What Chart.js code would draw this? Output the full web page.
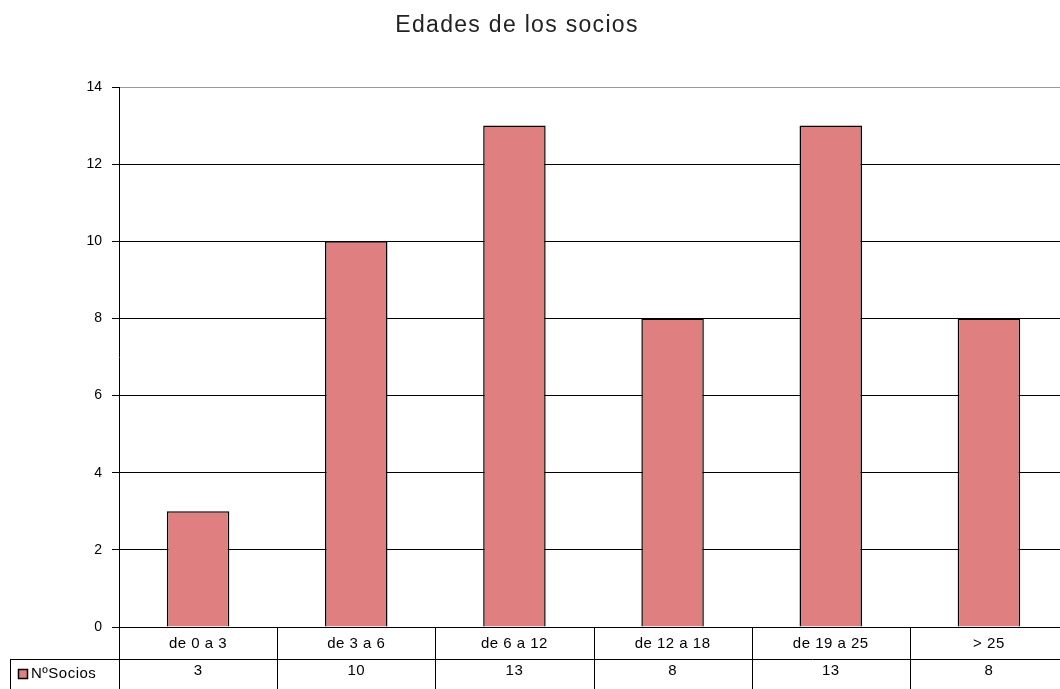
<!DOCTYPE html>
<html lang="es">
<head>
<meta charset="utf-8">
<title>Edades de los socios</title>
<script src="https://cdn.jsdelivr.net/npm/chart.js@4"></script>
<style>
  html, body { margin: 0; padding: 0; background: #fff; overflow: hidden; }
  #wrap { position: relative; width: 1080px; height: 689px; }
</style>
</head>
<body>
<div id="wrap"><canvas id="chart"></canvas></div>
<script>
// Age groups of the members and how many fall in each
const chartTitle = 'Edades de los socios';
const seriesName = 'NºSocios';
const categories = ['de 0 a 3', 'de 3 a 6', 'de 6 a 12', 'de 12 a 18', 'de 19 a 25', '> 25'];
const socios = [3, 10, 13, 8, 13, 8];
const yTicks = [0, 2, 4, 6, 8, 10, 12, 14];

const barFill = '#E07F7F';
const textFont = '15px "Liberation Sans", Arial, sans-serif';

// Title drawn above the plot, centred on the original sheet width
const titlePlugin = {
  id: 'sheetTitle',
  afterDraw(chart) {
    const ctx = chart.ctx;
    ctx.save();
    ctx.font = '23px "Liberation Sans", Arial, sans-serif';
    ctx.letterSpacing = '1.3px';
    ctx.fillStyle = '#222';
    ctx.textAlign = 'center';
    ctx.textBaseline = 'middle';
    ctx.fillText(chartTitle, 517, 26);
    ctx.restore();
  }
};

// Data table under the category axis: category row, then value row with legend key
const tablePlugin = {
  id: 'dataTable',
  afterDraw(chart) {
    const { ctx, chartArea, scales } = chart;
    const x = scales.x;
    const top = chartArea.bottom;
    const rowH = 32;
    const bottom = chart.height + 2;
    const n = categories.length;
    const step = (chartArea.right - chartArea.left) / n;
    const crisp = v => Math.round(v) + 0.5;

    ctx.save();
    ctx.strokeStyle = '#000';
    ctx.lineWidth = 1;

    // horizontal rules
    ctx.beginPath();
    ctx.moveTo(chartArea.left, crisp(top));
    ctx.lineTo(chart.width, crisp(top));
    ctx.moveTo(10, crisp(top + rowH));
    ctx.lineTo(chart.width, crisp(top + rowH));
    ctx.stroke();

    // vertical rules at category boundaries
    ctx.beginPath();
    for (let i = 0; i <= n; i++) {
      const px = crisp(x.getPixelForValue(i) - step / 2);
      ctx.moveTo(px, top);
      ctx.lineTo(px, bottom);
    }
    // legend cell left edge
    ctx.moveTo(crisp(10), top + rowH);
    ctx.lineTo(crisp(10), bottom);
    ctx.stroke();

    // texts
    ctx.font = textFont;
    ctx.letterSpacing = '0.5px';
    ctx.fillStyle = '#000';
    ctx.textAlign = 'center';
    ctx.textBaseline = 'middle';
    categories.forEach((c, i) => {
      const cx = x.getPixelForValue(i);
      ctx.fillText(c, cx, top + 17);
      ctx.fillText(String(socios[i]), cx, top + rowH + 12);
    });

    // legend key
    const ky = top + rowH + 15;
    ctx.fillStyle = barFill;
    ctx.fillRect(18, ky - 5, 10, 10);
    ctx.lineWidth = 1.5;
    ctx.strokeRect(18.5, ky - 4.5, 9, 9);
    ctx.fillStyle = '#000';
    ctx.textAlign = 'left';
    ctx.fillText(seriesName, 31, ky);
    ctx.restore();
  }
};

new Chart(document.getElementById('chart'), {
  type: 'bar',
  data: {
    labels: categories,
    datasets: [{
      label: seriesName,
      data: socios,
      backgroundColor: barFill,
      borderColor: '#000',
      borderWidth: 1.5,
      categoryPercentage: 1,
      barPercentage: 0.395
    }]
  },
  options: {
    responsive: true,
    maintainAspectRatio: false,
    animation: false,
    devicePixelRatio: 1,
    layout: { padding: { left: 0, right: 12, top: 87, bottom: 62 } },
    plugins: {
      legend: { display: false },
      title: { display: false },
      tooltip: { enabled: false }
    },
    scales: {
      x: { display: false },
      y: {
        min: 0,
        max: 14,
        afterBuildTicks(scale) { scale.ticks = yTicks.map(v => ({ value: v })); },
        afterFit(scale) { scale.width = 119; },
        border: { display: true, color: '#000', width: 1 },
        grid: {
          color: ctx => (ctx.tick && ctx.tick.value === 14 ? '#9a9a9a' : '#000'),
          tickColor: '#000',
          tickLength: 7,
          lineWidth: 1
        },
        ticks: {
          color: '#000',
          padding: 10,
          font: { family: '"Liberation Sans", Arial, sans-serif', size: 14 }
        }
      }
    }
  },
  plugins: [titlePlugin, tablePlugin]
});
</script>
</body>
</html>
